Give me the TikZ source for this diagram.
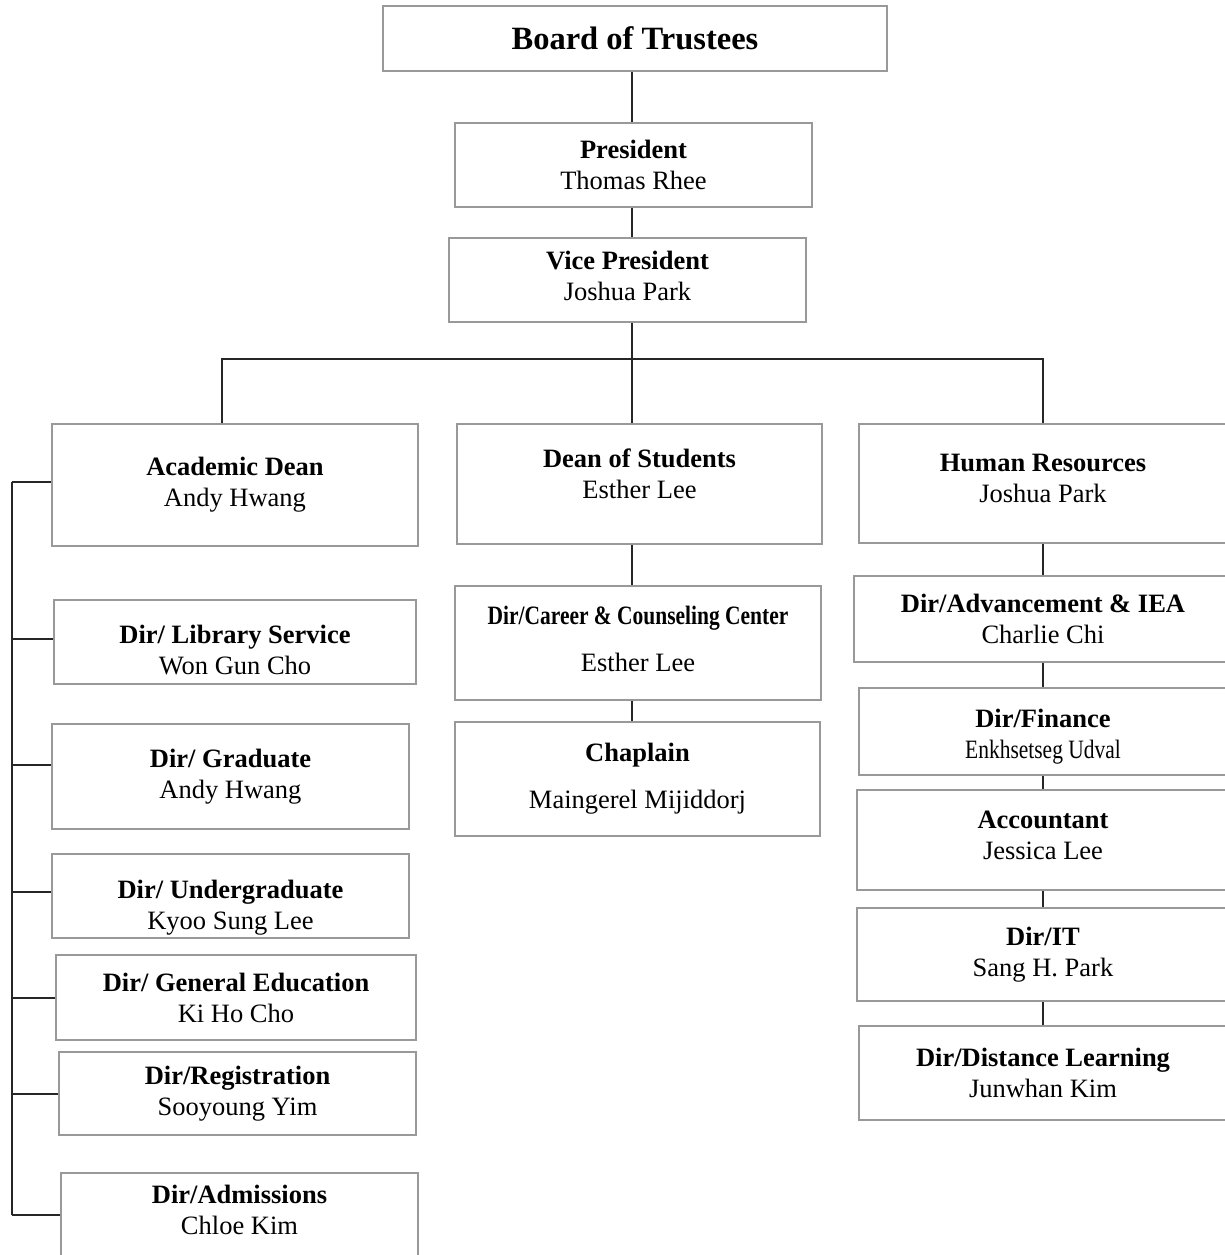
\documentclass[tikz,border=0pt]{standalone}
\usepackage{fontspec}
\setmainfont{Liberation Serif}

\begin{document}
\begin{tikzpicture}[x=1pt, y=-1pt,
    box/.style={draw=black!40, line width=1.5pt, align=center, inner sep=0pt,
                font=\fontsize{26.5}{31}\selectfont},
    lift/.style={execute at end node={\rule[-#1pt]{0pt}{0pt}}},
    link/.style={line width=2pt, black!85}]
  \fill[white, use as bounding box] (0,0) rectangle (1225,1255);

  % top of the chart
  \node[box, minimum width=504, minimum height=65, font=\fontsize{32.5}{38}\selectfont\bfseries]
        (board) at (635,38.5) {Board of Trustees};
  \node[box, minimum width=357, minimum height=84] (pres) at (633.5,165) {\textbf{President}\\Thomas Rhee};
  \node[box, minimum width=357, minimum height=84, lift=8] (vp) at (627.5,280) {\textbf{Vice President}\\Joshua Park};

  % three heads
  \node[box, minimum width=366, minimum height=122] (acad) at (235,485) {\textbf{Academic Dean}\\Andy Hwang};
  \node[box, minimum width=365, minimum height=120, lift=20] (dos) at (639.5,484) {\textbf{Dean of Students}\\Esther Lee};
  \node[box, minimum width=368, minimum height=119, lift=10] (hr) at (1043,483.5) {\textbf{Human Resources}\\Joshua Park};

  % left column
  \node[box, minimum width=362, minimum height=84] (lib) at (235,642)
        {\rule{0pt}{34pt}\textbf{Dir/ Library Service}\\Won Gun Cho};
  \node[box, minimum width=357, minimum height=105] (grad) at (230.5,776.5) {\textbf{Dir/ Graduate}\\Andy Hwang};
  \node[box, minimum width=357, minimum height=84] (ugrad) at (230.5,896)
        {\rule{0pt}{42pt}\textbf{Dir/ Undergraduate}\\Kyoo Sung Lee};
  \node[box, minimum width=360, minimum height=85] (gened) at (236,997.5) {\textbf{Dir/ General Education}\\Ki Ho Cho};
  \node[box, minimum width=357, minimum height=83] (reg) at (237.5,1093.5) {\textbf{Dir/Registration}\\Sooyoung Yim};
  \node[box, minimum width=357, minimum height=89, lift=16] (adm) at (239.5,1217.5) {\textbf{Dir/Admissions}\\Chloe Kim};

  % middle column
  \node[box, minimum width=366, minimum height=114, lift=8] (career) at (638,643)
        {\scalebox{0.81}[1]{\textbf{Dir/Career \& Counseling Center}}\\[16pt]Esther Lee};
  \node[box, minimum width=365, minimum height=114] (chap) at (637.5,779) {\textbf{Chaplain}\\[16pt]Maingerel Mijiddorj};

  % right column
  \node[box, minimum width=378, minimum height=86] (adv) at (1043,619) {\textbf{Dir/Advancement \& IEA}\\Charlie Chi};
  \node[box, minimum width=368, minimum height=87] (fin) at (1043,731.5)
        {\rule{0pt}{29pt}\textbf{Dir/Finance}\\\scalebox{0.81}[1]{Enkhsetseg Udval}};
  \node[box, minimum width=372, minimum height=100, lift=10] (acct) at (1043,840) {\textbf{Accountant}\\Jessica Lee};
  \node[box, minimum width=372, minimum height=93] (it) at (1043,954.5) {\textbf{Dir/IT}\\Sang H. Park};
  \node[box, minimum width=368, minimum height=94] (dl) at (1043,1073) {\textbf{Dir/Distance Learning}\\Junwhan Kim};

  % connectors
  \coordinate (trunk) at (632,359);
  \coordinate (bl) at (222,359);
  \coordinate (br) at (1043,359);
  \coordinate (spine) at (12,482);
  \draw[link] (trunk |- board.south) -- (trunk |- pres.north)
              (trunk |- pres.south) -- (trunk |- vp.north)
              (trunk |- vp.south) -- (trunk |- dos.north)
              (trunk |- dos.south) -- (trunk |- career.north)
              (trunk |- career.south) -- (trunk |- chap.north);
  \draw[link] (acad.north -| bl) -- (bl) -- (br) -- (hr.north);
  \draw[link] (hr) -- (adv) (adv) -- (fin) (fin) -- (acct) (acct) -- (it) (it) -- (dl);
  \foreach \n/\dy in {acad/3, lib/3, grad/11.5, ugrad/4, gened/0, reg/0, adm/2.5}
    \draw[link] ([yshift=\dy]\n.west) -- ([yshift=\dy]\n.west -| spine);
  \draw[link] (spine) -- ([yshift=2.5]adm.west -| spine);
\end{tikzpicture}
\end{document}
